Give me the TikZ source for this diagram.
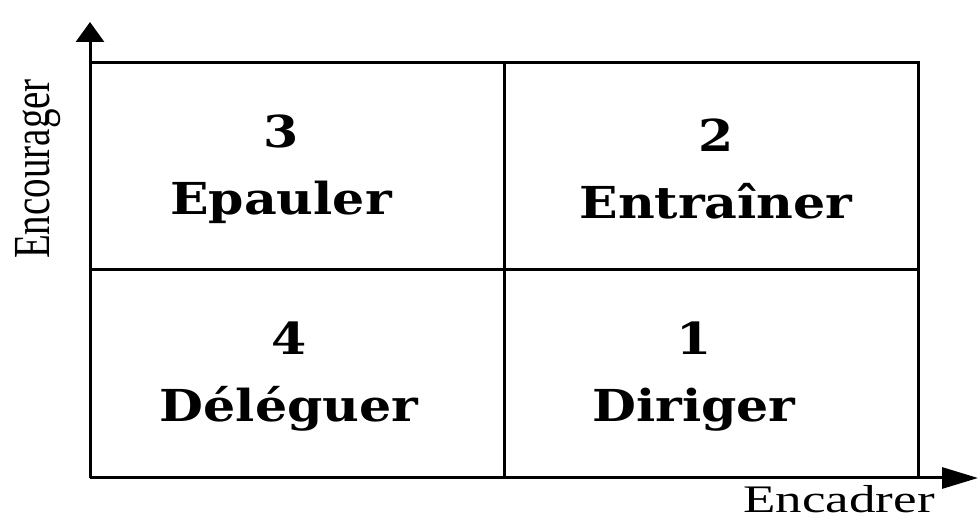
\documentclass[tikz,border=0pt]{standalone}
\usepackage{fontspec}
\setmainfont{Liberation Serif}
\newfontfamily\cellfont[FakeStretch=1.15]{DejaVu Serif}
\newfontfamily\axisfont[FakeStretch=1.36]{Liberation Serif}
\newfontfamily\axisnarrowfont[FakeStretch=0.75]{Liberation Serif}
\usetikzlibrary{arrows.meta}

\begin{document}
\begin{tikzpicture}[x=1pt, y=1pt,
  cell/.style={align=center, inner sep=0pt, font=\cellfont\bfseries\fontsize{44}{67}\selectfont},
  frame/.style={line width=3pt},
  axis/.style={line width=3pt, -{Triangle[length=20pt,width=28pt]}},
  axislabel/.style={inner sep=0pt, font=\axisfont\fontsize{39}{39}\selectfont}
]
\useasboundingbox (0,0) rectangle (979,521);
% corners of the grid
\coordinate (o) at (90,43);
\coordinate (ytip) at (90,499);
\coordinate (xtip) at (978,43);
\coordinate (tr) at (918,458);
% grid
\draw[frame] (90,458) -- (tr) -- (918,43);
\draw[frame] (504,43) -- (504,458);
\draw[frame] (90,251) -- (918,251);
% axes
\draw[axis] (o) -- (ytip);
\draw[axis, -{Triangle[length=36pt,width=21pt]}] (o) -- (xtip);
% quadrants
\node[cell] (q3) at (281,352) {3\\Epauler};
\node[cell] (q2) at (716,352) {2\\Entra\^{\i}ner};
\node[cell] (q4) at (289,144) {4\\D\'el\'eguer};
\node[cell] (q1) at (694,144) {1\\Diriger};
% axis labels
\node[axislabel, font=\axisnarrowfont\fontsize{52}{52}\selectfont, rotate=90, anchor=base] (ly) at (49,352) {Encourager};
\node[axislabel] (lx) at (839,22) {Encadrer};
\end{tikzpicture}
\end{document}
